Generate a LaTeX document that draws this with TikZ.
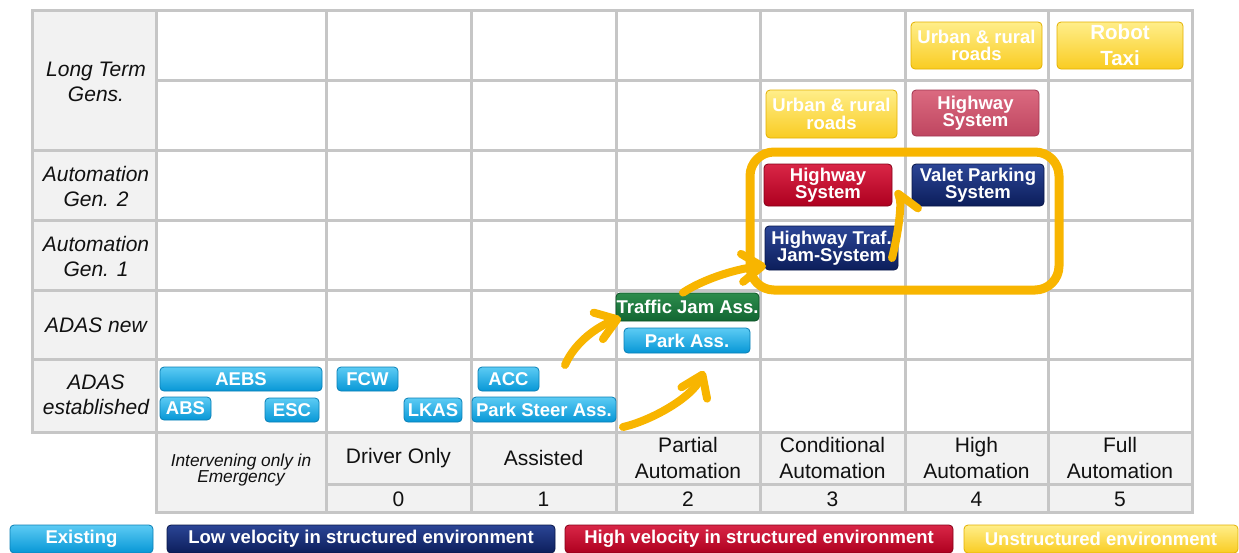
\documentclass[tikz,border=0pt]{standalone}
\usepackage{fontspec}
\setmainfont{Liberation Sans}
\usetikzlibrary{arrows.meta}
\definecolor{gridgray}{HTML}{C6C6C6}
\definecolor{hdrfill}{HTML}{F2F2F2}
\definecolor{orangeC}{HTML}{F8B500}
\definecolor{cyanT}{HTML}{5CCBF4}
\definecolor{cyanB}{HTML}{0797D6}
\definecolor{cyanD}{HTML}{0A7FB5}
\definecolor{navyT}{HTML}{2B4596}
\definecolor{navyB}{HTML}{0C1E5B}
\definecolor{navyD}{HTML}{081648}
\definecolor{redT}{HTML}{D92647}
\definecolor{redB}{HTML}{AE001F}
\definecolor{redD}{HTML}{850017}
\definecolor{pinkT}{HTML}{DB6A80}
\definecolor{pinkB}{HTML}{BF4660}
\definecolor{pinkD}{HTML}{A03550}
\definecolor{yelT}{HTML}{FFEE8A}
\definecolor{yelB}{HTML}{F9CC22}
\definecolor{yelD}{HTML}{E3B000}
\definecolor{grnT}{HTML}{2C8C4C}
\definecolor{grnB}{HTML}{126632}
\definecolor{grnD}{HTML}{0B5226}
\definecolor{txtC}{HTML}{111111}
\begin{document}
\begin{tikzpicture}[x=1pt,y=-1pt,
  gridline/.style={draw=gridgray,line width=3pt},
  rowhdr/.style={font=\itshape\fontsize{21}{25}\selectfont,align=center,text=txtC,inner sep=0pt},
  collbl/.style={font=\fontsize{21}{26}\selectfont,align=center,text=txtC,inner sep=0pt},
  btn/.style={rounded corners=4pt,inner sep=0pt,line width=0.8pt,text=white,align=center,
    font=\bfseries\fontsize{18.5}{17.5}\selectfont},
  cyanbtn/.style={btn,draw=cyanD,top color=cyanT,bottom color=cyanB},
  navybtn/.style={btn,draw=navyD,top color=navyT,bottom color=navyB},
  redbtn/.style={btn,draw=redD,top color=redT,bottom color=redB},
  pinkbtn/.style={btn,draw=pinkD,top color=pinkT,bottom color=pinkB},
  yelbtn/.style={btn,draw=yelD,top color=yelT,bottom color=yelB},
  grnbtn/.style={btn,draw=grnD,top color=grnT,bottom color=grnB},
  arr/.style={draw=orangeC,line width=8pt,line cap=round,
    -{Straight Barb[length=20pt,width=28pt,line cap=round,line join=round]}},
  harr/.style={draw=orangeC,line width=8pt,line cap=round,
    -{Straight Barb[harpoon,swap,length=20pt,width=28pt,line cap=round,line join=round]}}
]
\useasboundingbox (0,0) rectangle (1239,552);
% grid
\fill[hdrfill] (32,10) rectangle (156,432);
\fill[hdrfill] (156,432) rectangle (1192,512);
\foreach \x in {156,326,471,616,760,905,1048} \draw[gridline] (\x,10) -- (\x,512);
\draw[gridline] (156,80) -- (1192,80);
\foreach \y in {150,220,290,359} \draw[gridline] (32,\y) -- (1192,\y);
\draw[gridline] (326,484) -- (1192,484);
\draw[gridline] (32,10) rectangle (1192,432);
\draw[gridline] (156,432) rectangle (1192,512);
% row headers
\node[rowhdr] (rLT) at (96,82) {Long Term\\Gens.};
\node[rowhdr] (rG2) at (96,186) {Automation\\Gen. 2};
\node[rowhdr] (rG1) at (96,256) {Automation\\Gen. 1};
\node[rowhdr] (rAN) at (96,325) {ADAS new};
\node[rowhdr] (rAE) at (96,395) {ADAS\\established};
% column labels
\node[font=\itshape\fontsize{17.3}{15}\selectfont,align=center,text=txtC,inner sep=0pt] (cE) at (241,470) {Intervening only in\\Emergency};
\node[collbl] (c0) at (398.5,458) {Driver Only};
\node[collbl] (c1) at (543.5,458) {Assisted};
\node[collbl] (c2) at (688,458) {Partial\\Automation};
\node[collbl] (c3) at (832.5,458) {Conditional\\Automation};
\node[collbl] (c4) at (976.5,458) {High\\Automation};
\node[collbl] (c5) at (1120,458) {Full\\Automation};
\node[collbl] (n0) at (398.5,499) {0};
\node[collbl] (n1) at (543.5,499) {1};
\node[collbl] (n2) at (688,499) {2};
\node[collbl] (n3) at (832.5,499) {3};
\node[collbl] (n4) at (976.5,499) {4};
\node[collbl] (n5) at (1120,499) {5};
% group frame
\node[draw=orangeC,line width=9pt,rounded corners=24pt,minimum width=309pt,minimum height=138pt,inner sep=0pt] (grp) at (904.5,221) {};
% buttons
\node[cyanbtn,minimum width=162pt,minimum height=24pt] (aebs) at (241,379) {AEBS};
\node[cyanbtn,minimum width=51pt,minimum height=23pt] (abs) at (185.5,408.5) {ABS};
\node[cyanbtn,minimum width=54pt,minimum height=24pt] (esc) at (292,410) {ESC};
\node[cyanbtn,minimum width=61pt,minimum height=24pt] (fcw) at (367.5,379) {FCW};
\node[cyanbtn,minimum width=58pt,minimum height=24pt] (lkas) at (433,410) {LKAS};
\node[cyanbtn,minimum width=61pt,minimum height=24pt] (acc) at (508.5,379) {ACC};
\node[cyanbtn,minimum width=144pt,minimum height=25pt] (psa) at (544,409.5) {Park Steer Ass.};
\node[grnbtn,minimum width=143pt,minimum height=28pt] (tja) at (687.5,307) {Traffic Jam Ass.};
\node[cyanbtn,minimum width=126pt,minimum height=25pt] (pa) at (687,340.5) {Park Ass.};
\node[navybtn,minimum width=133pt,minimum height=44pt] (htj) at (831.5,248) {Highway Traf.\\Jam-System};
\node[redbtn,minimum width=128pt,minimum height=42pt] (hs3) at (828,185) {Highway\\System};
\node[navybtn,minimum width=132pt,minimum height=42pt] (vps) at (978,185) {Valet Parking\\System};
\node[yelbtn,minimum width=131pt,minimum height=48pt] (ur3) at (831.5,114) {Urban \& rural\\roads};
\node[pinkbtn,minimum width=127pt,minimum height=46pt] (hs4) at (975.5,113) {Highway\\System};
\node[yelbtn,minimum width=131pt,minimum height=47pt] (ur4) at (976.5,45.5) {Urban \& rural\\roads};
\node[yelbtn,minimum width=126pt,minimum height=47pt,font=\bfseries\fontsize{20.5}{26}\selectfont] (rt) at (1120,45.5) {Robot\\Taxi};
% legend
\node[cyanbtn,minimum width=143pt,minimum height=28pt] (lgE) at (81.5,539) {Existing};
\node[navybtn,minimum width=388pt,minimum height=28pt] (lgL) at (361,539) {Low velocity in structured environment};
\node[redbtn,minimum width=388pt,minimum height=28pt] (lgH) at (759,539) {High velocity in structured environment};
\node[yelbtn,minimum width=274pt,minimum height=28pt] (lgU) at (1101,539) {Unstructured environment};
% arrows
\coordinate (a1s) at (565,365);
\coordinate (a1e) at (621,318);
\coordinate (a2s) at (623,427);
\coordinate (a2e) at (704,371);
\coordinate (a3e) at (766,266);
\coordinate (a4s) at (892,258);
\coordinate (a4e) at (897,190);
\draw[arr] (a1s) .. controls (575,342) and (598,326) .. (a1e);
\draw[arr] (a2s) .. controls (650,421) and (692,398) .. (a2e);
\draw[arr] ([xshift=-4.5pt]tja.north) .. controls (705,278) and (740,268) .. (a3e);
\draw[harr] (a4s) .. controls (898,235) and (902,205) .. (a4e);
\end{tikzpicture}
\end{document}
